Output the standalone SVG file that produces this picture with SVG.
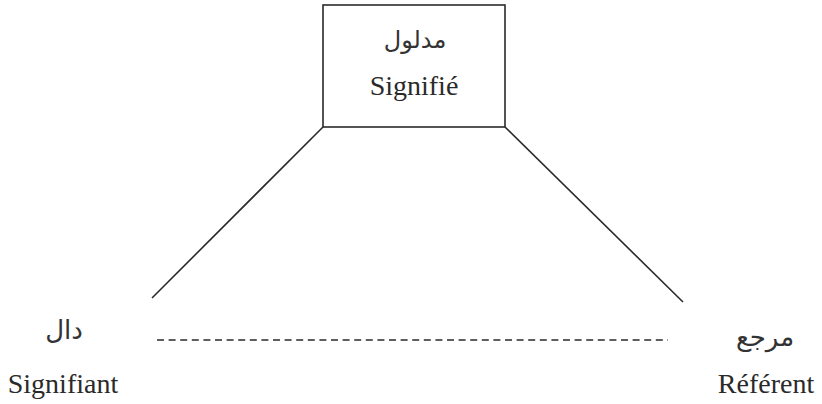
<svg xmlns="http://www.w3.org/2000/svg" width="822" height="404" viewBox="0 0 822 404">
  <style>
    .lat { font-family: "Liberation Serif", "Times New Roman", serif; font-size: 28px; fill: #2a2a2a; text-anchor: middle; }
    .ar { font-family: "DejaVu Sans", "Noto Sans", sans-serif; font-size: 24px; fill: #333333; text-anchor: middle; direction: rtl; }
    .ar-lg { font-size: 26px; }
    .edge { stroke: #2a2a2a; stroke-width: 1.6; fill: none; }
    .dash { stroke: #2a2a2a; stroke-width: 1.4; stroke-dasharray: 7 4.6; fill: none; }
  </style>
  <rect width="822" height="404" fill="#ffffff"/>

  <g id="connectors">
    <line class="edge" x1="323" y1="127" x2="152" y2="298"/>
    <line class="edge" x1="505" y1="127" x2="683" y2="302"/>
    <line class="dash" x1="157" y1="340" x2="668" y2="340"/>
  </g>

  <g id="signifie">
    <rect class="edge" x="323" y="5" width="182" height="122"/>
    <text class="ar" x="415" y="48">مدلول</text>
    <text class="lat" x="414" y="95">Signifié</text>
  </g>

  <g id="signifiant">
    <text class="ar ar-lg" x="64" y="339">دال</text>
    <text class="lat" x="63" y="393">Signifiant</text>
  </g>

  <g id="referent">
    <text class="ar ar-lg" x="765" y="346">مرجع</text>
    <text class="lat" x="766" y="393">Référent</text>
  </g>
</svg>
